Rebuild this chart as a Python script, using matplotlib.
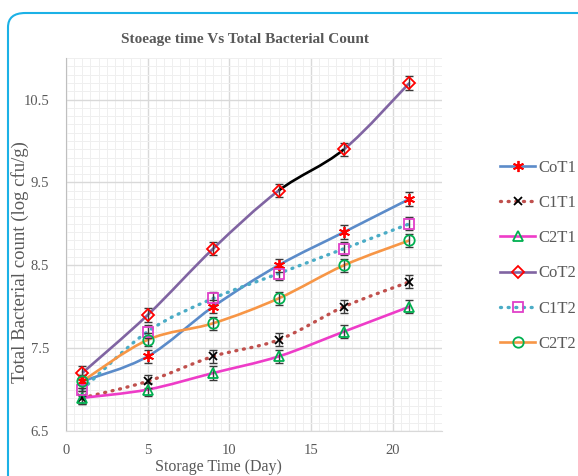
import numpy as np
import matplotlib
matplotlib.use("Agg")
import matplotlib.pyplot as plt
from matplotlib.path import Path
from matplotlib.patches import PathPatch, FancyBboxPatch
from matplotlib.lines import Line2D
from matplotlib.ticker import MultipleLocator

days = [1, 5, 9, 13, 17, 21]
CoT1 = [7.1, 7.4, 8.0, 8.5, 8.9, 9.3]
C1T1 = [6.9, 7.1, 7.4, 7.6, 8.0, 8.3]
C2T1 = [6.9, 7.0, 7.2, 7.4, 7.7, 8.0]
CoT2 = [7.2, 7.9, 8.7, 9.4, 9.9, 10.7]
C1T2 = [7.0, 7.7, 8.1, 8.4, 8.7, 9.0]
C2T2 = [7.1, 7.6, 7.8, 8.1, 8.5, 8.8]
err = [0.08, 0.08, 0.08, 0.08, 0.08, 0.08]
labels = ["CoT1", "C1T1", "C2T1", "CoT2", "C1T2", "C2T2"]

plt.rcParams['font.family'] = ['Liberation Serif', 'DejaVu Serif']

fig = plt.figure(figsize=(5.78, 4.76), dpi=100)
ax = fig.add_axes([0.114, 0.0945, 0.651, 0.7835])

def smooth_path(x, y, idx=None):
    n = len(x)
    segs = range(n - 1) if idx is None else idx
    verts = []
    codes = []
    for i in segs:
        p0 = np.array([x[max(i - 1, 0)], y[max(i - 1, 0)]], dtype=float)
        p1 = np.array([x[i], y[i]], dtype=float)
        p2 = np.array([x[i + 1], y[i + 1]], dtype=float)
        p3 = np.array([x[min(i + 2, n - 1)], y[min(i + 2, n - 1)]], dtype=float)
        c1 = p1 + (p2 - p0) / 6.0
        c2 = p2 - (p3 - p1) / 6.0
        if not verts or tuple(verts[-1]) != tuple(p1):
            verts.append(tuple(p1)); codes.append(Path.MOVETO)
        verts += [tuple(c1), tuple(c2), tuple(p2)]
        codes += [Path.CURVE4] * 3
    return Path(verts, codes)

dots = (0, (0.3, 2.0))
series = [
    dict(y=CoT1, color='#5B8BC9', ls='-', marker=(6, 2, 0), mc='#FF0000', ms=8, mfc='#FF0000'),
    dict(y=C1T1, color='#C0504D', ls=dots, marker='x', mc='#000000', ms=6, mfc='#000000'),
    dict(y=C2T1, color='#EE3CC8', ls='-', marker='^', mc='#00B050', ms=7.5, mfc='none'),
    dict(y=CoT2, color='#8064A2', ls='-', marker='D', mc='#FF0000', ms=6.3, mfc='none'),
    dict(y=C1T2, color='#4BACC6', ls=dots, marker='s', mc='#E040C8', ms=7, mfc='none'),
    dict(y=C2T2, color='#F79646', ls='-', marker='o', mc='#00B050', ms=7.5, mfc='none'),
]

handles = []
for s in series:
    lw = 2.4 if s['ls'] != '-' else 1.9
    cap = 'round' if s['ls'] != '-' else 'butt'
    if s['y'] is CoT2:
        parts = [([0, 1, 2], s['color']), ([3], '#000000'), ([4], s['color'])]
        for idx, c in parts:
            ax.add_patch(PathPatch(smooth_path(days, s['y'], idx), facecolor='none',
                                   edgecolor=c, lw=lw, linestyle=s['ls'], zorder=3,
                                   capstyle=cap))
    else:
        ax.add_patch(PathPatch(smooth_path(days, s['y']), facecolor='none',
                               edgecolor=s['color'], lw=lw, linestyle=s['ls'],
                               zorder=3, capstyle=cap))
    ax.errorbar(days, s['y'], yerr=err, fmt='none', ecolor='#3A3A3A',
                elinewidth=1.0, capsize=3.2, capthick=1.0, zorder=4)
    ax.plot(days, s['y'], ls='none', marker=s['marker'], ms=s['ms'],
            mec=s['mc'], mfc=s['mfc'], mew=1.3, zorder=5)
    h = Line2D([], [], color=s['color'], lw=lw, ls=s['ls'],
               marker=s['marker'], ms=s['ms'], mec=s['mc'],
               mfc=s['mfc'], mew=1.3)
    h.set_dash_capstyle(cap)
    handles.append(h)

ax.set_xlim(0, 23)
ax.set_ylim(6.5, 11.0)
ax.xaxis.set_major_locator(MultipleLocator(5))
ax.xaxis.set_minor_locator(MultipleLocator(0.5))
ax.set_yticks([6.5, 7.5, 8.5, 9.5, 10.5])
ax.yaxis.set_minor_locator(MultipleLocator(0.1))
ax.grid(which='major', color='#D9D9D9', lw=1.0)
ax.grid(which='minor', color='#EFEFEF', lw=0.7)
ax.set_axisbelow(True)
ax.tick_params(which='both', length=0, labelsize=10.5, labelcolor='#595959')
ax.tick_params(axis='y', pad=12)
ax.tick_params(axis='x', pad=9)
for side in ['top', 'right']:
    ax.spines[side].set_visible(False)
ax.spines['left'].set_color('#BFBFBF')
ax.spines['bottom'].set_color('#D9D9D9')

ax.set_xlabel('Storage Time (Day)', fontsize=11.5, color='#595959')
ax.xaxis.set_label_coords(0.405, -0.075)
ax.set_ylabel('Total Bacterial count (log cfu/g)', fontsize=13.5, color='#595959',
              va='center')
ax.yaxis.set_label_coords(-0.122, 0.452)
fig.text(0.424, 0.918, 'Stoeage time Vs Total Bacterial Count', ha='center', va='center',
         fontsize=11, fontweight='bold', color='#595959')

leg = ax.legend(handles, labels, loc='upper left', bbox_to_anchor=(1.135, 0.745),
                frameon=False, fontsize=12, labelcolor='#595959', handlelength=2.15,
                handletextpad=0.2, labelspacing=1.15, borderaxespad=0)

border = FancyBboxPatch((8 / 578, -0.2), 1.2, 0.2 + (476 - 13) / 476,
                        boxstyle='round,pad=0,rounding_size=0.03',
                        transform=fig.transFigure, facecolor='none',
                        edgecolor='#1BB1E6', lw=1.5, clip_on=False)
fig.patches.append(border)

fig.savefig('out.png', dpi=100)
